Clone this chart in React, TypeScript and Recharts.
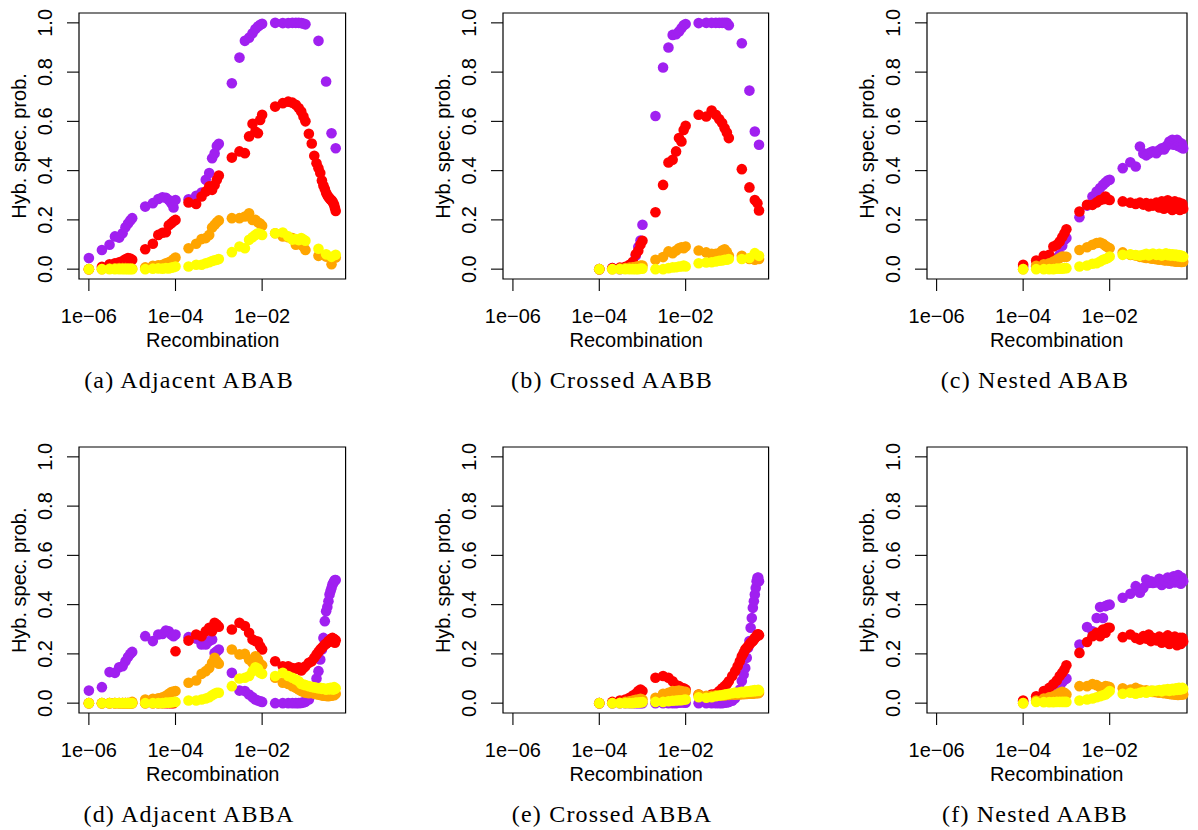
import React from 'react';
import { ScatterChart, Scatter, XAxis, YAxis, ReferenceArea } from 'recharts';

// ---- x grids (recombination rates) ----
const X_LOW = [1e-6, 2e-6, 3e-6, 4e-6, 5e-6, 6e-6, 7e-6, 8e-6, 9e-6, 1e-5, 2e-5, 3e-5, 4e-5, 5e-5, 6e-5, 7e-5, 8e-5, 9e-5];
const X_MID = [1e-4, 2e-4, 3e-4, 4e-4, 5e-4, 6e-4, 7e-4, 8e-4, 9e-4, 1e-3, 2e-3, 3e-3, 4e-3, 5e-3, 6e-3, 7e-3, 8e-3, 9e-3, 1e-2, 0.02, 0.03, 0.04, 0.05, 0.06, 0.07, 0.08, 0.09, 0.1];
const X_TAIL = [0.12, 0.14, 0.16, 0.18, 0.2, 0.22, 0.24, 0.26, 0.28, 0.3, 0.32, 0.34, 0.36, 0.38, 0.4, 0.42, 0.44, 0.46, 0.48, 0.5];

const X_TICKS = [1e-6, 1e-4, 1e-2];
const X_TICK_LABELS = ['1e\u221206', '1e\u221204', '1e\u221202'];
const Y_TICKS = [0, 0.2, 0.4, 0.6, 0.8, 1.0];
const Y_TICK_LABELS = ['0.0', '0.2', '0.4', '0.6', '0.8', '1.0'];
const CAPTIONS = ['(a) Adjacent ABAB', '(b) Crossed AABB', '(c) Nested ABAB', '(d) Adjacent ABBA', '(e) Crossed ABBA', '(f) Nested AABB'];
const X_TITLE = 'Recombination';
const Y_TITLE = 'Hyb. spec. prob.';

const N = null;

// ---- (a) Adjacent ABAB ----
const aPurpleLow = [0.045, 0.078, 0.099, 0.133, 0.128, 0.146, 0.17, 0.185, 0.198, 0.207, 0.254, 0.268, 0.285, 0.292, 0.29, 0.281, 0.268, 0.25];
const aPurpleMid = [0.281, 0.284, 0.298, 0.311, 0.363, 0.39, 0.45, 0.47, 0.5, 0.509, 0.755, 0.859, 0.927, 0.94, 0.958, 0.975, 0.985, 0.992, 0.996, 1.0, 0.999, 0.999, 1.0, 1.0, 1.0, 0.999, 0.997, 0.994];
const aPurpleTail = [N, N, N, N, 0.927, N, N, N, N, 0.762, N, N, N, N, 0.552, N, N, N, N, 0.491];
const aRedLow = [0.0, 0.01, 0.02, 0.024, 0.028, 0.033, 0.04, 0.045, 0.043, 0.038, 0.081, 0.103, 0.139, 0.148, 0.15, 0.178, 0.186, 0.194];
const aRedMid = [0.2, 0.271, 0.265, 0.295, 0.315, 0.336, 0.322, 0.342, 0.363, 0.38, 0.453, 0.478, 0.471, 0.539, 0.59, 0.559, 0.552, 0.606, 0.627, 0.66, 0.674, 0.68, 0.676, 0.667, 0.654, 0.64, 0.62, 0.6];
const aRedTail = [0.55, 0.51, 0.46, 0.43, 0.41, 0.39, 0.36, 0.34, 0.325, 0.31, 0.3, 0.293, 0.288, 0.283, 0.28, 0.275, 0.268, 0.26, 0.248, 0.236];
const aOrangeLow = [0, 0, 0.002, 0.003, 0.004, 0.004, 0.004, 0.003, 0.003, 0.002, 0.007, 0.014, 0.016, 0.018, 0.024, 0.028, 0.033, 0.04];
const aOrangeMid = [0.047, 0.085, 0.103, 0.122, 0.126, 0.139, 0.169, 0.18, 0.19, 0.198, 0.207, 0.207, 0.214, 0.227, 0.2, 0.2, 0.19, 0.185, 0.176, 0.146, 0.133, 0.13, 0.126, 0.099, 0.112, 0.099, 0.092, 0.078];
const aOrangeTail = [N, N, N, N, 0.054, N, N, N, N, 0.051, N, N, N, N, 0.02, N, N, N, N, 0.047];
const aYellowLow = [0, 0, 0, 0, 0, 0, 0, 0, 0, 0, 0, 0.002, 0.003, 0.002, 0.004, 0.003, 0.006, 0.008];
const aYellowMid = [0.011, 0.011, 0.018, 0.018, 0.024, 0.028, 0.033, 0.036, 0.038, 0.041, 0.069, 0.092, 0.085, 0.119, 0.13, 0.139, 0.146, 0.143, 0.139, 0.146, 0.149, 0.133, 0.12, 0.122, 0.118, 0.126, 0.12, 0.115];
const aYellowTail = [N, N, N, N, 0.083, N, N, N, N, 0.06, N, N, N, N, 0.05, N, N, N, N, 0.058];

// ---- (b) Crossed AABB ----
const bPurpleMid = [0, 0.004, 0, 0.004, 0.01, 0.018, 0.055, 0.09, 0.116, 0.18, 0.622, 0.819, 0.9, 0.951, 0.954, 0.965, 0.978, 0.99, 0.995, 0.999, 1.0, 1.0, 1.0, 1.0, 1.0, 1.0, 1.0, 0.99];
const bPurpleTail = [N, N, N, N, 0.917, N, N, N, N, 0.725, N, N, N, N, 0.559, N, N, N, N, 0.505];
const bRedMid = [0, 0.004, 0.006, 0.01, 0.018, 0.03, 0.06, 0.075, 0.1, 0.115, 0.231, 0.342, 0.433, 0.444, 0.478, 0.532, 0.518, 0.565, 0.582, 0.627, 0.62, 0.644, 0.627, 0.609, 0.593, 0.572, 0.555, 0.532];
const bRedTail = [N, N, N, N, 0.406, N, N, N, N, 0.332, N, N, N, N, 0.281, N, N, 0.268, N, 0.238];
const bOrangeMid = [0, 0, 0.002, 0.004, 0.006, 0.008, 0.01, 0.012, 0.015, 0.015, 0.038, 0.049, 0.072, 0.065, 0.076, 0.085, 0.089, 0.085, 0.092, 0.076, 0.068, 0.062, 0.062, 0.065, 0.076, 0.081, 0.07, 0.054];
const bOrangeTail = [N, N, N, N, 0.054, N, N, N, N, 0.041, N, N, N, N, 0.038, N, N, N, N, 0.041];
const bYellowMid = [0, 0, 0, 0, 0, 0, 0, 0, 0.002, 0.002, 0, 0, 0.004, 0.007, 0.008, 0.011, 0.011, 0.015, 0.011, 0.024, 0.027, 0.028, 0.031, 0.034, 0.035, 0.038, 0.038, 0.041];
const bYellowTail = [N, N, N, N, 0.041, N, N, N, N, 0.045, N, N, N, N, 0.065, N, N, N, N, 0.054];

// ---- (c) Nested ABAB ----
const cPurpleMid = [0.01, 0.012, 0.02, 0.024, 0.035, 0.045, 0.058, 0.095, 0.119, 0.126, 0.211, 0.258, 0.295, 0.315, 0.329, 0.342, 0.352, 0.36, 0.363, 0.41, 0.434, 0.417, 0.498, 0.47, 0.462, 0.47, 0.475, 0.478];
const cPurpleTail = [0.471, 0.484, 0.491, 0.486, 0.498, 0.505, 0.518, 0.511, 0.525, 0.505, 0.52, 0.51, 0.525, 0.5, 0.515, 0.505, 0.495, 0.51, 0.5, 0.49];
const cRedMid = [0.018, 0.035, 0.054, 0.058, 0.092, 0.099, 0.112, 0.13, 0.146, 0.162, 0.234, 0.261, 0.261, 0.271, 0.281, 0.284, 0.295, 0.284, 0.281, 0.275, 0.27, 0.265, 0.27, 0.262, 0.268, 0.255, 0.265, 0.258];
const cRedTail = [0.27, 0.25, 0.275, 0.245, 0.265, 0.28, 0.25, 0.27, 0.24, 0.26, 0.275, 0.245, 0.265, 0.255, 0.27, 0.24, 0.26, 0.25, 0.265, 0.245];
const cOrangeMid = [0, 0.014, 0.02, 0.024, 0.031, 0.038, 0.045, 0.051, 0.05, 0.05, 0.078, 0.089, 0.099, 0.106, 0.108, 0.103, 0.095, 0.089, 0.085, 0.068, 0.058, 0.055, 0.05, 0.048, 0.045, 0.047, 0.043, 0.042];
const cOrangeTail = [0.04, 0.038, 0.04, 0.036, 0.035, 0.038, 0.034, 0.036, 0.032, 0.035, 0.033, 0.03, 0.034, 0.031, 0.033, 0.03, 0.032, 0.029, 0.031, 0.03];
const cYellowMid = [0, 0, 0, 0, 0, 0.002, 0.002, 0.002, 0.004, 0.004, 0.011, 0.015, 0.022, 0.024, 0.031, 0.038, 0.041, 0.045, 0.051, 0.058, 0.06, 0.057, 0.055, 0.058, 0.062, 0.056, 0.06, 0.063];
const cYellowTail = [0.058, 0.062, 0.055, 0.06, 0.064, 0.057, 0.061, 0.055, 0.06, 0.058, 0.054, 0.059, 0.056, 0.052, 0.057, 0.053, 0.055, 0.05, 0.053, 0.05];

// ---- (d) Adjacent ABBA ----
const dPurpleLow = [0.051, 0.065, 0.126, 0.123, 0.146, 0.15, 0.17, 0.187, 0.2, 0.208, 0.272, 0.252, 0.279, 0.281, 0.295, 0.292, 0.279, 0.272];
const dPurpleMid = [0.279, 0.268, 0.262, 0.238, 0.238, 0.252, 0.258, 0.204, 0.211, 0.218, 0.123, 0.051, 0.049, 0.035, 0.024, 0.015, 0.011, 0.008, 0.005, 0, 0, 0, 0, 0, 0, 0.001, 0.003, 0.006];
const dPurpleTail = [0.015, 0.035, 0.062, 0.1, 0.13, 0.177, 0.218, 0.265, 0.333, 0.373, 0.39, 0.414, 0.441, 0.455, 0.468, 0.482, 0.488, 0.495, 0.5, 0.5];
const dRedLow = [0, 0, 0, 0, 0, 0, 0, 0, 0, 0, 0, 0, 0, 0, 0, 0, 0, 0];
const dRedMid = [0.211, 0.254, 0.279, 0.272, 0.292, 0.306, 0.292, 0.326, 0.319, 0.31, 0.299, 0.326, 0.313, 0.286, 0.258, 0.252, 0.25, 0.231, 0.218, 0.17, 0.15, 0.15, 0.143, 0.14, 0.146, 0.133, 0.143, 0.15];
const dRedTail = [0.164, 0.17, 0.184, 0.198, 0.208, 0.218, 0.225, 0.231, 0.238, 0.241, 0.245, 0.252, 0.254, 0.258, 0.262, 0.265, 0.25, 0.26, 0.245, 0.255];
const dOrangeLow = [0, 0, 0, 0, 0, 0, 0, 0, 0, 0.005, 0.015, 0.018, 0.02, 0.024, 0.03, 0.038, 0.045, 0.047];
const dOrangeMid = [0.049, 0.083, 0.092, 0.119, 0.13, 0.143, 0.164, 0.184, 0.17, 0.16, 0.218, 0.198, 0.2, 0.177, 0.164, 0.19, 0.177, 0.16, 0.154, 0.103, 0.083, 0.078, 0.069, 0.062, 0.055, 0.049, 0.046, 0.042];
const dOrangeTail = [0.04, 0.042, 0.038, 0.036, 0.035, 0.033, 0.032, 0.03, 0.031, 0.029, 0.03, 0.028, 0.03, 0.032, 0.03, 0.033, 0.035, 0.032, 0.036, 0.038];
const dYellowLow = [0, 0, 0, 0, 0, 0, 0, 0, 0, 0, 0, 0, 0, 0, 0.002, 0.002, 0.003, 0.004];
const dYellowMid = [0.005, 0.011, 0.011, 0.015, 0.019, 0.024, 0.032, 0.038, 0.042, 0.042, 0.069, 0.1, 0.103, 0.11, 0.13, 0.146, 0.14, 0.123, 0.119, 0.11, 0.123, 0.11, 0.103, 0.096, 0.089, 0.078, 0.076, 0.073];
const dYellowTail = [0.069, 0.066, 0.064, 0.062, 0.06, 0.062, 0.058, 0.06, 0.057, 0.055, 0.058, 0.06, 0.056, 0.062, 0.058, 0.06, 0.055, 0.065, 0.058, 0.06];

// ---- (e) Crossed ABBA ----
const ePurpleMid = [0, 0, 0, 0, 0, 0, 0, 0, 0, 0, 0, 0, 0, 0, 0, 0.002, 0.003, 0.003, 0.002, 0, 0, 0, 0, 0, 0, 0.002, 0.003, 0.005];
const ePurpleTail = [0.01, 0.02, 0.035, 0.055, 0.09, 0.116, 0.143, 0.184, 0.225, 0.252, 0.306, 0.346, 0.387, 0.414, 0.441, 0.468, 0.495, 0.509, 0.51, 0.495];
const eRedMid = [0, 0.005, 0.011, 0.015, 0.022, 0.031, 0.038, 0.049, 0.055, 0.049, 0.103, 0.11, 0.103, 0.089, 0.073, 0.069, 0.062, 0.06, 0.055, 0.035, 0.028, 0.035, 0.038, 0.049, 0.06, 0.069, 0.078, 0.089];
const eRedTail = [0.11, 0.13, 0.15, 0.17, 0.19, 0.204, 0.218, 0.225, 0.231, 0.238, 0.245, 0.249, 0.252, 0.258, 0.265, 0.268, 0.272, 0.279, 0.28, 0.276];
const eOrangeMid = [0, 0, 0.001, 0.005, 0.008, 0.011, 0.014, 0.015, 0.018, 0.015, 0.022, 0.038, 0.042, 0.049, 0.049, 0.051, 0.049, 0.046, 0.046, 0.035, 0.03, 0.03, 0.032, 0.03, 0.033, 0.031, 0.034, 0.033];
const eOrangeTail = [0.035, 0.034, 0.036, 0.035, 0.037, 0.036, 0.038, 0.037, 0.039, 0.038, 0.04, 0.039, 0.038, 0.04, 0.042, 0.04, 0.041, 0.043, 0.04, 0.042];
const eYellowMid = [0, 0, 0, 0, 0, 0, 0.002, 0.002, 0.003, 0.004, 0.005, 0.005, 0.008, 0.01, 0.011, 0.012, 0.012, 0.014, 0.015, 0.024, 0.022, 0.024, 0.028, 0.031, 0.032, 0.035, 0.036, 0.038];
const eYellowTail = [0.04, 0.043, 0.041, 0.044, 0.046, 0.043, 0.047, 0.045, 0.048, 0.046, 0.05, 0.047, 0.051, 0.048, 0.053, 0.049, 0.052, 0.05, 0.054, 0.05];

// ---- (f) Nested AABB ----
const fPurpleMid = [0.008, 0.01, 0.02, 0.03, 0.04, 0.05, 0.07, 0.085, 0.095, 0.1, 0.238, 0.309, 0.292, 0.346, 0.39, 0.346, 0.394, 0.398, 0.4, 0.428, 0.444, 0.475, 0.448, 0.468, 0.502, 0.488, 0.495, 0.488];
const fPurpleTail = [0.49, 0.505, 0.48, 0.5, 0.495, 0.51, 0.485, 0.505, 0.5, 0.515, 0.49, 0.51, 0.5, 0.52, 0.495, 0.505, 0.485, 0.51, 0.5, 0.495];
const fRedMid = [0.011, 0.028, 0.049, 0.062, 0.078, 0.092, 0.11, 0.123, 0.137, 0.154, 0.204, 0.248, 0.272, 0.286, 0.272, 0.299, 0.286, 0.306, 0.306, 0.268, 0.279, 0.265, 0.258, 0.272, 0.262, 0.279, 0.252, 0.265];
const fRedTail = [0.255, 0.27, 0.245, 0.265, 0.25, 0.275, 0.24, 0.26, 0.255, 0.245, 0.27, 0.25, 0.235, 0.26, 0.245, 0.265, 0.24, 0.255, 0.265, 0.25];
const fOrangeMid = [0, 0.011, 0.019, 0.024, 0.028, 0.035, 0.042, 0.046, 0.042, 0.035, 0.069, 0.069, 0.078, 0.073, 0.065, 0.062, 0.069, 0.067, 0.065, 0.06, 0.055, 0.062, 0.055, 0.05, 0.052, 0.048, 0.05, 0.045];
const fOrangeTail = [0.044, 0.042, 0.045, 0.04, 0.042, 0.038, 0.04, 0.036, 0.038, 0.035, 0.037, 0.034, 0.036, 0.033, 0.035, 0.037, 0.034, 0.036, 0.038, 0.035];
const fYellowMid = [0, 0.005, 0.004, 0.004, 0.004, 0.005, 0.005, 0.005, 0.005, 0.005, 0.011, 0.015, 0.019, 0.024, 0.028, 0.032, 0.035, 0.042, 0.049, 0.038, 0.042, 0.038, 0.042, 0.046, 0.042, 0.049, 0.046, 0.051];
const fYellowTail = [0.05, 0.053, 0.048, 0.055, 0.052, 0.057, 0.05, 0.054, 0.058, 0.052, 0.056, 0.06, 0.054, 0.058, 0.062, 0.055, 0.06, 0.057, 0.062, 0.058];

// ---- styling ----
const COLORS = ['#A020F0', '#FF0000', '#FFA500', '#FFFF00'];
const SANS = '"Liberation Sans", Arial, Helvetica, sans-serif';
const SERIF = '"Liberation Serif", "Times New Roman", serif';
const FONT = 20;
const R = 5.3;
const TICK = 12;

type P = { x: number; y: number };
function pts(xs: number[], ys: (number | null)[]): P[] {
  const out: P[] = [];
  xs.forEach((x, i) => {
    const y = ys[i];
    if (y !== null && y !== undefined) out.push({ x, y });
  });
  return out;
}
function join(...parts: P[][]): P[] {
  return ([] as P[]).concat(...parts);
}

const panelSeries: P[][][] = [
  [
    join(pts(X_LOW, aPurpleLow), pts(X_MID, aPurpleMid), pts(X_TAIL, aPurpleTail)),
    join(pts(X_LOW, aRedLow), pts(X_MID, aRedMid), pts(X_TAIL, aRedTail)),
    join(pts(X_LOW, aOrangeLow), pts(X_MID, aOrangeMid), pts(X_TAIL, aOrangeTail)),
    join(pts(X_LOW, aYellowLow), pts(X_MID, aYellowMid), pts(X_TAIL, aYellowTail)),
  ],
  [
    join(pts(X_MID, bPurpleMid), pts(X_TAIL, bPurpleTail)),
    join(pts(X_MID, bRedMid), pts(X_TAIL, bRedTail)),
    join(pts(X_MID, bOrangeMid), pts(X_TAIL, bOrangeTail)),
    join(pts(X_MID, bYellowMid), pts(X_TAIL, bYellowTail)),
  ],
  [
    join(pts(X_MID, cPurpleMid), pts(X_TAIL, cPurpleTail)),
    join(pts(X_MID, cRedMid), pts(X_TAIL, cRedTail)),
    join(pts(X_MID, cOrangeMid), pts(X_TAIL, cOrangeTail)),
    join(pts(X_MID, cYellowMid), pts(X_TAIL, cYellowTail)),
  ],
  [
    join(pts(X_LOW, dPurpleLow), pts(X_MID, dPurpleMid), pts(X_TAIL, dPurpleTail)),
    join(pts(X_LOW, dRedLow), pts(X_MID, dRedMid), pts(X_TAIL, dRedTail)),
    join(pts(X_LOW, dOrangeLow), pts(X_MID, dOrangeMid), pts(X_TAIL, dOrangeTail)),
    join(pts(X_LOW, dYellowLow), pts(X_MID, dYellowMid), pts(X_TAIL, dYellowTail)),
  ],
  [
    join(pts(X_MID, ePurpleMid), pts(X_TAIL, ePurpleTail)),
    join(pts(X_MID, eRedMid), pts(X_TAIL, eRedTail)),
    join(pts(X_MID, eOrangeMid), pts(X_TAIL, eOrangeTail)),
    join(pts(X_MID, eYellowMid), pts(X_TAIL, eYellowTail)),
  ],
  [
    join(pts(X_MID, fPurpleMid), pts(X_TAIL, fPurpleTail)),
    join(pts(X_MID, fRedMid), pts(X_TAIL, fRedTail)),
    join(pts(X_MID, fOrangeMid), pts(X_TAIL, fOrangeTail)),
    join(pts(X_MID, fYellowMid), pts(X_TAIL, fYellowTail)),
  ],
];

// layout of each panel's plot box
const COLS = [
  { left: 79.4, right: 346, logMin: -6.228, logMax: -0.073, capX: 189 },
  { left: 503.4, right: 769, logMin: -6.23, logMax: -0.079, capX: 612 },
  { left: 926.6, right: 1186.6, logMin: -6.222, logMax: -0.213, capX: 1035 },
];
const ROWS = [
  { top: 13, bottom: 279 },
  { top: 447.3, bottom: 713.3 },
];

const ML = 80; // space left of box inside chart
const MT = 10;
const MR = 10;
const XH = 70;

const XTick = (props: any) => {
  const { x, y, payload } = props;
  const i = X_TICKS.findIndex((t) => Math.abs(Math.log10(t) - Math.log10(payload.value)) < 1e-6);
  return (
    <text x={x} y={y + 32} textAnchor="middle" fontSize={FONT} fontFamily={SANS} fill="#000">
      {i >= 0 ? X_TICK_LABELS[i] : ''}
    </text>
  );
};

const YTick = (props: any) => {
  const { x, y, payload } = props;
  const i = Y_TICKS.findIndex((t) => Math.abs(t - payload.value) < 1e-6);
  const bx = x - 15;
  return (
    <text x={bx} y={y} transform={`rotate(-90 ${bx} ${y})`} textAnchor="middle" fontSize={FONT} fontFamily={SANS} fill="#000">
      {i >= 0 ? Y_TICK_LABELS[i] : ''}
    </text>
  );
};

function Panel({ idx }: { idx: number }) {
  const col = COLS[idx % 3];
  const row = ROWS[Math.floor(idx / 3)];
  const boxW = col.right - col.left;
  const boxH = row.bottom - row.top;
  const W = boxW + ML + MR;
  const H = boxH + MT + XH;
  const xMin = Math.pow(10, col.logMin);
  const xMax = Math.pow(10, col.logMax);
  const series = panelSeries[idx];
  return (
    <div style={{ position: 'absolute', left: col.left - ML, top: row.top - MT, width: W, height: H }}>
      <ScatterChart width={W} height={H} margin={{ top: MT, right: MR, left: 0, bottom: 0 }}>
        <XAxis
          dataKey="x"
          type="number"
          scale="log"
          domain={[xMin, xMax]}
          ticks={X_TICKS}
          interval={0}
          height={XH}
          axisLine={false}
          tickSize={TICK}
          tickMargin={0}
          tickLine={{ stroke: '#000', strokeWidth: 1.1 }}
          tick={<XTick />}
        />
        <YAxis
          dataKey="y"
          type="number"
          domain={[-0.04, 1.04]}
          ticks={Y_TICKS}
          interval={0}
          width={ML}
          axisLine={false}
          tickSize={TICK}
          tickMargin={0}
          tickLine={{ stroke: '#000', strokeWidth: 1.1 }}
          tick={<YTick />}
        />
        {series.map((d, s) => (
          <Scatter
            key={s}
            data={d}
            isAnimationActive={false}
            fill={COLORS[s]}
            shape={(p: any) => <circle cx={p.cx} cy={p.cy} r={R} fill={COLORS[s]} />}
          />
        ))}
        <ReferenceArea x1={xMin} x2={xMax} y1={-0.04} y2={1.04} fill="none" fillOpacity={0} stroke="#000" strokeWidth={1.2} ifOverflow="visible" />
      </ScatterChart>
    </div>
  );
}

export default function App() {
  return (
    <div style={{ position: 'absolute', left: 0, top: 0, width: 1198, height: 830, background: '#fff', overflow: 'hidden' }}>
      {[0, 1, 2, 3, 4, 5].map((i) => (
        <Panel key={i} idx={i} />
      ))}
      <svg width={1198} height={830} style={{ position: 'absolute', left: 0, top: 0, pointerEvents: 'none' }}>
        {[0, 1, 2, 3, 4, 5].map((i) => {
          const col = COLS[i % 3];
          const row = ROWS[Math.floor(i / 3)];
          const cx = (col.left + col.right) / 2;
          const cy = (row.top + row.bottom) / 2;
          const yx = col.left - 53;
          return (
            <g key={i}>
              <text x={cx} y={row.bottom + 68} textAnchor="middle" fontSize={FONT} fontFamily={SANS} fill="#000">
                {X_TITLE}
              </text>
              <text x={yx} y={cy} transform={`rotate(-90 ${yx} ${cy})`} textAnchor="middle" fontSize={FONT} fontFamily={SANS} fill="#000">
                {Y_TITLE}
              </text>
              <text x={col.capX} y={row.bottom + 109} textAnchor="middle" fontSize={24} fontFamily={SERIF} letterSpacing={1.2} fill="#000">
                {CAPTIONS[i]}
              </text>
            </g>
          );
        })}
      </svg>
    </div>
  );
}
